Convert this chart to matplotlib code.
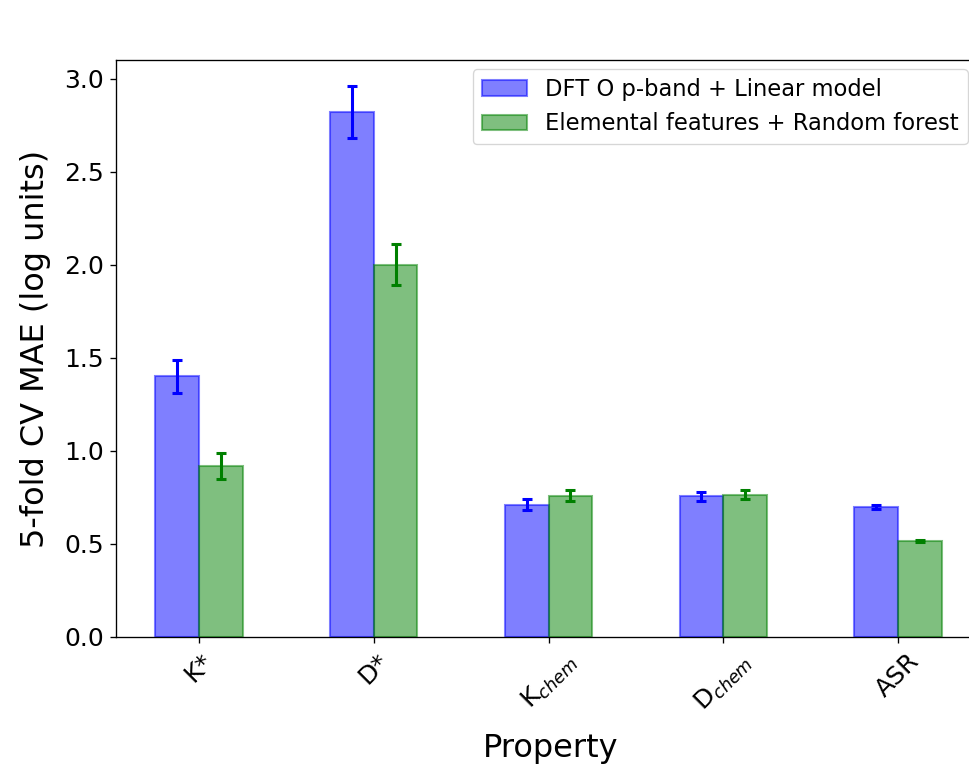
import matplotlib
matplotlib.use("Agg")
import matplotlib.pyplot as plt
import numpy as np

categories = ["K*", "D*", r"K$_{chem}$", r"D$_{chem}$", "ASR"]
dft_mae = [1.40, 2.82, 0.71, 0.755, 0.70]
dft_err = [0.09, 0.14, 0.03, 0.022, 0.01]
elem_mae = [0.92, 2.00, 0.76, 0.765, 0.515]
elem_err = [0.07, 0.11, 0.03, 0.025, 0.006]
series_labels = ["DFT O p-band + Linear model", "Elemental features + Random forest"]

W, H = 969, 765
s = 1.2
fig = plt.figure(figsize=(W / 100, H / 100), dpi=100)
ax = fig.add_axes([116 / W, 1 - 637 / H, (985.5 - 116) / W, (637 - 60) / H])

x = np.arange(len(categories))
w = 0.25
ax.bar(x - w / 2, dft_mae, w, color="blue", alpha=0.5, edgecolor="blue", linewidth=1.5,
       label=series_labels[0])
ax.bar(x + w / 2, elem_mae, w, color="green", alpha=0.5, edgecolor="green", linewidth=1.5,
       label=series_labels[1])
ax.errorbar(x - w / 2, dft_mae, yerr=dft_err, fmt="none", ecolor="blue", elinewidth=2.2,
            capsize=3.3, capthick=2.2)
ax.errorbar(x + w / 2, elem_mae, yerr=elem_err, fmt="none", ecolor="green", elinewidth=2.2,
            capsize=3.3, capthick=2.2)

ax.set_xlim(-0.475, 4.5)
ax.set_ylim(0, 3.1)
ax.set_yticks([0.0, 0.5, 1.0, 1.5, 2.0, 2.5, 3.0])
ax.set_xticks(x)
ax.set_xticklabels(categories, rotation=45, fontsize=18)
ax.tick_params(axis="both", labelsize=18, length=3.5 * s, width=0.8 * s, pad=3.5 * s)
for sp in ax.spines.values():
    sp.set_linewidth(0.8 * s)
ax.set_xlabel("Property", fontsize=23, labelpad=12)
ax.set_ylabel("5-fold CV MAE (log units)", fontsize=23, labelpad=10)

leg = fig.legend(loc="upper right", bbox_to_anchor=(968 / W, 1 - 69 / H), fontsize=16.3,
                 frameon=True, borderaxespad=0)
leg.get_frame().set_linewidth(0.8 * s)

fig.savefig("out.png", dpi=100)
